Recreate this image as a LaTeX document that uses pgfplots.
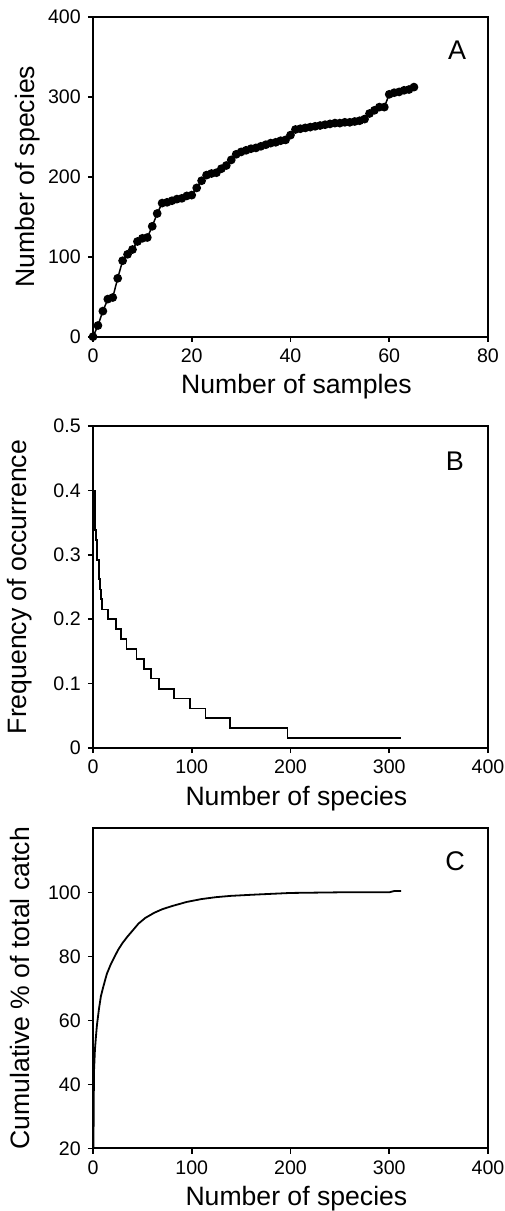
\documentclass[border=0pt]{standalone}
\usepackage{fontspec}
\setmainfont{Liberation Sans}
\usepackage{pgfplots}
\pgfplotsset{compat=1.18}

% 1px of the reference = 0.5pt
\pgfplotsset{
  panel/.style={
    scale only axis,
    width=197.5pt,
    anchor=south west,
    axis line style={line width=0.9pt},
    tick style={line width=0.8pt, black},
    tick align=outside,
    major tick length=2.6pt,
    xtick pos=bottom, ytick pos=left,
    xmin=0, xmax=400, xtick={0,100,...,400},
    ticklabel style={font=\fontsize{9.8}{11}\selectfont},
    label style={font=\fontsize{13.3}{14}\selectfont},
    /pgf/number format/assume math mode=true,
    xlabel style={at={(axis description cs:0.515,-0.178)}, anchor=base},
    ylabel style={at={(axis description cs:-0.185,0.5)}, anchor=center, rotate=0},
  },
}
\tikzset{letter/.style={font=\fontsize{13.5}{14}\selectfont}}

\begin{document}
\begin{tikzpicture}
\path[use as bounding box] (0,0) rectangle (252pt,-605.5pt);

% ---- A ----
\begin{axis}[panel, at={(46.5pt,-168.35pt)}, height=160pt,
  xmin=0, xmax=80, xtick={0,20,...,80},
  ymin=0, ymax=400, ytick={0,100,...,400},
  xlabel={Number of samples}, ylabel={Number of species},
  ylabel style={at={(axis description cs:-0.165,0.5)}}]
\addplot[black, line width=0.75pt, mark=*, mark size=1.8pt] coordinates {
 (0,0) (1,14) (2,32) (3,47) (4,49) (5,73) (6,95) (7,103) (8,109) (9,119)
 (10,123) (11,124) (12,138) (13,154) (14,167) (15,168) (16,170) (17,172) (18,173) (19,176)
 (20,177) (21,186) (22,195) (23,202) (24,204) (25,205) (26,210) (27,214) (28,221) (29,228)
 (30,231) (31,233) (32,235) (33,236) (34,238) (35,240) (36,242) (37,243) (38,245) (39,246)
 (40,252) (41,259) (42,260) (43,261) (44,262) (45,263) (46,264) (47,265) (48,266) (49,267)
 (50,267) (51,268) (52,268) (53,269) (54,270) (55,272) (56,279) (57,283) (58,287) (59,287)
 (60,303) (61,305) (62,306) (63,308) (64,309) (65,312)
};
\node[letter] at (axis description cs:0.922,0.896) {A};
\end{axis}

% ---- B ----
\begin{axis}[panel, at={(46.5pt,-374pt)}, height=161pt,
  ymin=0, ymax=0.5, ytick={0,0.1,...,0.5},
  yticklabel style={/pgf/number format/fixed, /pgf/number format/precision=1},
  xlabel={Number of species}, ylabel={Frequency of occurrence}]
\addplot[black, line width=0.9pt, const plot] coordinates {
 (1,0.400) (2,0.338) (3,0.323) (4,0.292) (6,0.262) (7,0.246) (8,0.231) (9,0.215)
 (15,0.200) (23,0.185) (28,0.169) (34,0.154) (44,0.138) (52,0.123) (59,0.108)
 (67,0.092) (82,0.077) (98,0.0615) (114,0.046) (139,0.031) (197,0.0154) (312,0.0154)
};
\node[letter] at (axis description cs:0.916,0.892) {B};
\end{axis}

% ---- C ----
\begin{axis}[panel, at={(46.5pt,-574.15pt)}, height=160pt,
  ymin=20, ymax=120, ytick={20,40,...,100},
  xlabel={Number of species}, ylabel={Cumulative \% of total catch}]
\addplot[black, line width=0.9pt] coordinates {
 (0,0) (1,44) (2,51) (3,55) (4,58.5) (6,63.5) (8,67.5) (10,70) (14,74.5) (18,77.5)
 (22,80) (26,82.3) (30,84.2) (35,86.2) (40,88) (46,90.2) (53,92) (62,93.6) (70,94.7)
 (80,95.7) (95,97) (110,97.9) (125,98.5) (140,98.9) (165,99.3) (200,99.8) (250,100)
 (300,100) (305,100.4) (312,100.4)
};
\node[letter] at (axis description cs:0.917,0.896) {C};
\end{axis}
\end{tikzpicture}
\end{document}
